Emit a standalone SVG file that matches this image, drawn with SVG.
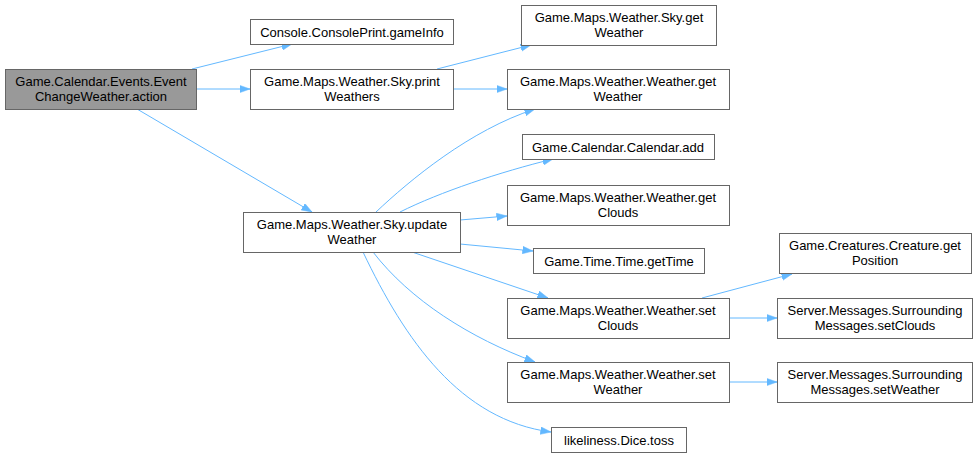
<svg xmlns="http://www.w3.org/2000/svg" width="977" height="458" viewBox="0 0 977 458">
<style>
.n rect{fill:#ffffff;stroke:#666666;stroke-width:1}
.n.root rect{fill:#999999}
.n text{font-family:"Liberation Sans",Arial,sans-serif;font-size:13px;fill:#000000;text-anchor:middle}
.e path{fill:none;stroke:#63b8ff;stroke-width:1;marker-end:url(#ah)}
</style>
<defs>
<marker id="ah" markerUnits="userSpaceOnUse" markerWidth="11" markerHeight="8" refX="10.5" refY="3.75" orient="auto">
<path d="M0,0 L10.5,3.75 L0,7.5 z" fill="#63b8ff" stroke="#63b8ff" stroke-width="0.5"/>
</marker>
</defs>
<rect width="977" height="458" fill="#ffffff"/>
<g id="edges" class="e">
<path d="M192,69 L292,44"/>
<path d="M196,89 L250,89"/>
<path d="M137,109 L312,212"/>
<path d="M437,69 L531,45"/>
<path d="M453,89 L507,89"/>
<path d="M376,212 C410,180 470,130 535,109"/>
<path d="M400,212 C440,192 500,172 553,159"/>
<path d="M460,220 L507,216"/>
<path d="M460,244 L533,251"/>
<path d="M412,252 L548,298"/>
<path d="M373,252 C410,300 470,338 535,362"/>
<path d="M363,252 C405,340 460,420 551,432"/>
<path d="M702,298 L792,274"/>
<path d="M729,318 L777,318"/>
<path d="M729,382 L777,382"/>
</g>
<g id="node_root" class="n root"><rect x="5.5" y="69.5" width="191" height="40"/><text x="101" y="85.5">Game.Calendar.Events.Event</text><text x="101" y="100.5">ChangeWeather.action</text></g>
<g id="node_gameInfo" class="n"><rect x="250.5" y="19.5" width="203" height="25"/><text x="352" y="36.5">Console.ConsolePrint.gameInfo</text></g>
<g id="node_printWeathers" class="n"><rect x="250.5" y="69.5" width="203" height="40"/><text x="352" y="85.5">Game.Maps.Weather.Sky.print</text><text x="352" y="100.5">Weathers</text></g>
<g id="node_skyGetWeather" class="n"><rect x="521.5" y="5.5" width="195" height="40"/><text x="619" y="21.5">Game.Maps.Weather.Sky.get</text><text x="619" y="36.5">Weather</text></g>
<g id="node_weatherGetWeather" class="n"><rect x="507.5" y="69.5" width="222" height="40"/><text x="618" y="85.5">Game.Maps.Weather.Weather.get</text><text x="618" y="100.5">Weather</text></g>
<g id="node_updateWeather" class="n"><rect x="243.5" y="212.5" width="217" height="40"/><text x="352" y="228.5">Game.Maps.Weather.Sky.update</text><text x="352" y="243.5">Weather</text></g>
<g id="node_calendarAdd" class="n"><rect x="522.5" y="134.5" width="192" height="25"/><text x="618" y="151.5">Game.Calendar.Calendar.add</text></g>
<g id="node_getClouds" class="n"><rect x="507.5" y="185.5" width="222" height="40"/><text x="618" y="201.5">Game.Maps.Weather.Weather.get</text><text x="618" y="216.5">Clouds</text></g>
<g id="node_getTime" class="n"><rect x="533.5" y="248.5" width="171" height="25"/><text x="619" y="265.5">Game.Time.Time.getTime</text></g>
<g id="node_setClouds" class="n"><rect x="507.5" y="298.5" width="222" height="40"/><text x="618" y="314.5">Game.Maps.Weather.Weather.set</text><text x="618" y="329.5">Clouds</text></g>
<g id="node_setWeather" class="n"><rect x="507.5" y="362.5" width="222" height="40"/><text x="618" y="378.5">Game.Maps.Weather.Weather.set</text><text x="618" y="393.5">Weather</text></g>
<g id="node_toss" class="n"><rect x="551.5" y="427.5" width="135" height="25"/><text x="619" y="444.5">likeliness.Dice.toss</text></g>
<g id="node_getPosition" class="n"><rect x="779.5" y="233.5" width="192" height="40"/><text x="875" y="249.5">Game.Creatures.Creature.get</text><text x="875" y="264.5">Position</text></g>
<g id="node_smSetClouds" class="n"><rect x="777.5" y="298.5" width="195" height="40"/><text x="875" y="314.5">Server.Messages.Surrounding</text><text x="875" y="329.5">Messages.setClouds</text></g>
<g id="node_smSetWeather" class="n"><rect x="777.5" y="362.5" width="195" height="40"/><text x="875" y="378.5">Server.Messages.Surrounding</text><text x="875" y="393.5">Messages.setWeather</text></g>
</svg>
